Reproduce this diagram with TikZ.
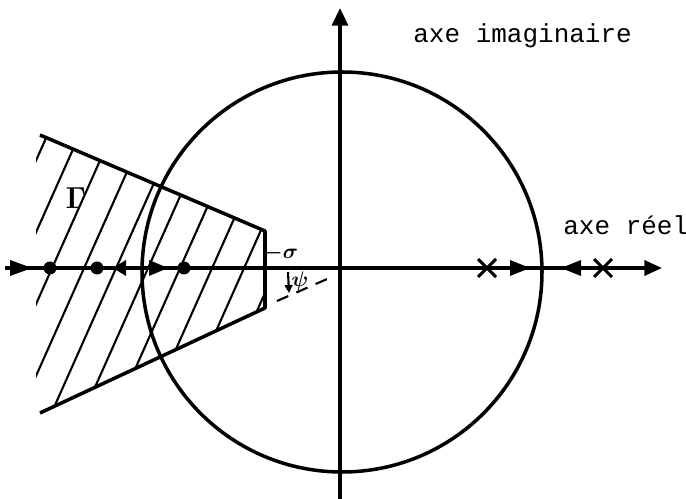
\documentclass[tikz,border=0pt]{standalone}
\usepackage{amsmath}
\usepackage{fontspec}
\newfontfamily\typefont{Liberation Mono}
\usetikzlibrary{arrows.meta}
\begin{document}
\begin{tikzpicture}[x=0.02cm,y=-0.02cm,
  thickline/.style={line width=2pt},
  hatchline/.style={line width=1.2pt},
  axisline/.style={line width=2pt},
  label/.style={font=\typefont\fontsize{14.8}{16}\selectfont, inner sep=0pt, anchor=base west},
  tri/.style={fill=black},
  dotmark/.style={fill=black},
  crossmark/.style={line width=1.8pt}]
\useasboundingbox (0,0) rectangle (686,499);
% named points
\coordinate (O) at (340,268);
\coordinate (XL) at (5,268);
\coordinate (XR) at (662,268);
\coordinate (YT) at (340,8);
\coordinate (YB) at (340,499);
\coordinate (C) at (342,272);
\coordinate (G1) at (40,135);
\coordinate (G2) at (265,231);
\coordinate (G3) at (265,308);
\coordinate (G4) at (40,413);
\coordinate (D1) at (277,301);
\coordinate (D2) at (334,276);
% hatching
\begin{scope}
  \clip (36,133) -- (G2) -- (G3) -- (G4) -- (36,413) -- cycle;
  \foreach \i in {-4,...,8} {
    \pgfmathsetmacro{\xi}{52+32*\i}
    \draw[hatchline] (\xi-81,450) -- (\xi+75,100);
  }
\end{scope}
% region boundary
\draw[thickline, line join=round] (G1) -- (G2) -- (G3) -- (G4);
% circle
\draw[thickline] (C) circle (200);
% axes
\draw[axisline, -{Triangle[length=10pt,width=8.5pt]}] (XL) -- (XR);
\draw[axisline, -{Triangle[length=10pt,width=9pt]}] (YB) -- (YT);
% dashed line
\draw[line width=1.2pt, dash pattern=on 7pt off 5pt] (D1) -- (D2);
% markers on real axis, left
\fill[tri, shift={(22,268)}] (-12,-8) -- (10,0) -- (-12,8) -- cycle;
\fill[dotmark] (50,268) circle (6.5);
\fill[dotmark] (97,268) circle (6.5);
\fill[tri, shift={(120,268)}] (-7,0) -- (6,-8) -- (6,8) -- cycle;
\fill[tri, shift={(158,268)}] (-9,-8) -- (10,0) -- (-9,8) -- cycle;
\fill[dotmark] (184,268) circle (6.5);
% markers on real axis, right
\draw[crossmark] (478,259) -- (496,277) (478,277) -- (496,259);
\fill[tri, shift={(520,268)}] (-10,-8) -- (10,0) -- (-10,8) -- cycle;
\fill[tri, shift={(571,268)}] (10,-8) -- (-10,0) -- (10,8) -- cycle;
\draw[crossmark] (594,259) -- (612,277) (594,277) -- (612,259);
% small arrow for psi
\coordinate (P1) at (288,272);
\coordinate (P2) at (289,293);
\draw[line width=1.2pt, -{Triangle[length=4.5pt,width=4.5pt]}] (P1) -- (P2);
% labels
\node[label] (imag) at (413,43) {axe imaginaire};
\node[label] (reel) at (563,235) {axe réel};
\node[font=\fontsize{13}{15}\selectfont, inner sep=0pt] (sigma) at (281,253) {$\boldsymbol{-\sigma}$};
\node[font=\fontsize{13}{15}\selectfont, inner sep=0pt] (psi) at (300,281) {$\boldsymbol{\psi}$};
\node[font=\fontsize{18}{20}\selectfont, inner sep=0pt] (gamma) at (76,198) {$\boldsymbol{\Gamma}$};
\end{tikzpicture}
\end{document}
